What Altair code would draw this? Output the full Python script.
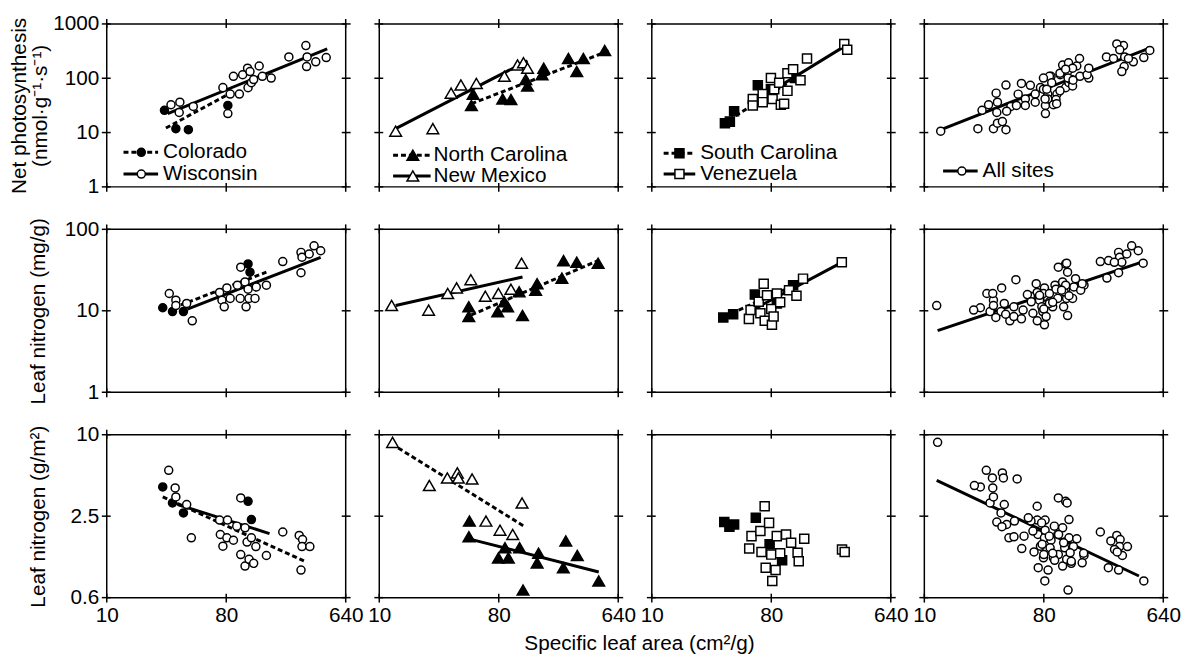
import altair as alt
import pandas as pd

FONT = "Liberation Sans"
FS = 21
PANEL_W = 242
PANEL_H = 165

X_TICKS = [10, 80, 640]
A_TICKS = [1, 10, 100, 1000]
NMASS_TICKS = [1, 10, 100]
NAREA_TICKS = [0.625, 2.5, 10]
A_DOMAIN = [1, 1000]
NMASS_DOMAIN = [1, 100]
NAREA_DOMAIN = [0.625, 10]

A_TITLE = ["Net photosynthesis", "(nmol·g⁻¹·s⁻¹)"]
NMASS_TITLE = "Leaf nitrogen (mg/g)"
NAREA_TITLE = "Leaf nitrogen (g/m²)"
X_TITLE = "Specific leaf area (cm²/g)"

# ---------------- Row 1: net photosynthesis ----------------
CO_A_sla = [27.3, 33.3, 41.4, 82.3]
CO_A = [25.7, 11.8, 11.3, 31.6]
WI_A_sla = [30.6, 35.7, 35.3, 45.1, 75.5, 82.3, 85.7, 90.7, 100.6, 106.5, 116, 117,
            121, 124, 129, 142, 150, 175, 238, 320, 324, 327, 380, 456]
WI_A = [32.5, 36.3, 23.4, 30.3, 67.2, 22.4, 51.1, 108.6, 51.1, 116, 153, 67.2,
        133, 82.6, 94.7, 168, 108.6, 101, 247, 399, 164, 247, 201, 240]
NC_A_sla = [49.7, 51.2, 85.7, 98.9, 128, 132, 170, 175, 269, 311, 349, 506]
NC_A = [31.6, 51, 41.6, 40.5, 94.7, 72, 116, 153, 231, 133, 231, 325]
NM_A_sla = [13.3, 25.4, 34.9, 41.4, 54.2, 88.2, 111, 123, 132]
NM_A = [10.6, 11.8, 53.2, 75, 80.3, 108.6, 175, 193, 153]
SC_A_sla = [35.7, 38.9, 41.9, 63.3, 79.5, 122]
SC_A = [14.9, 15.9, 24.7, 74, 62.8, 101]
VE_A_sla = [58, 58, 68.9, 68.9, 79.5, 81.8, 84.2, 91.8, 94.5, 100, 106, 106, 117,
            133, 149, 285, 300]
VE_A = [41.6, 31.6, 51.1, 36.3, 101, 41.6, 62.8, 82.6, 32.5, 33.9, 58.6, 124, 147,
        92, 231, 428, 334]

# regression line end points
CO_A_fit_sla = [28.0, 85.7]
CO_A_fit = [12.1, 53]
WI_A_fit_sla = [28.9, 464]
WI_A_fit = [22.4, 348]
NC_A_fit_sla = [49.7, 551]
NC_A_fit = [33.9, 325]
NM_A_fit_sla = [13.3, 132]
NM_A_fit = [11.8, 210]
SC_A_fit_sla = [34.1, 125.8]
SC_A_fit = [14.3, 105.6]
VE_A_fit_sla = [56.4, 300]
VE_A_fit = [33.9, 416]
ALL_A_fit_sla = [12.8, 486]
ALL_A_fit = [10.9, 348]

# ---------------- Row 2: leaf nitrogen per mass ----------------
CO_N_sla = [26.5, 31.4, 38.0, 117, 121]
CO_N = [10.9, 9.77, 9.77, 37.6, 29.8]
WI_N_sla = [29.7, 33.3, 33.3, 40.2, 44.3, 71.3, 74.3, 77.3, 80.9, 85.7, 97.2, 102,
            103, 111, 113, 117, 119, 132, 135, 161, 214, 294, 294, 299, 339, 369, 414]
WI_N = [16.3, 13.5, 11.6, 12.3, 7.53, 16.8, 13.5, 11.2, 19.1, 14.2, 20.6, 14.2,
        34.3, 22.6, 11.2, 18.4, 14.2, 14.2, 19.6, 20.6, 40.2, 29.3, 52.1, 45.4, 49.8, 62.8, 54.6]
NC_N_sla = [47.5, 47.5, 78.6, 88.2, 93.4, 114, 121, 152, 156, 240, 247, 311, 451]
NC_N = [11.2, 8.5, 9.77, 12.9, 11.2, 17.1, 8.74, 17.9, 21.5, 25.2, 41.3, 39.4, 38.4]
NM_N_sla = [12.4, 23.6, 32.9, 38.4, 49.2, 63.3, 79.5, 98.9, 119]
NM_N = [11.6, 10.2, 16.3, 19.1, 24.1, 15.1, 16.3, 18.4, 38.4]
SC_N_sla = [34.7, 41.2, 60.1, 88.2, 117]
SC_N = [8.27, 9.07, 15.8, 12.3, 20.6]
VE_N_sla = [54.2, 55.8, 64.3, 66.2, 70.1, 71.4, 74.3, 80, 80.9, 83.3, 88.2, 93.4,
            109, 124, 139, 273]
VE_N = [7.96, 10.2, 12.9, 9.33, 21.5, 7.53, 15.5, 10.5, 6.73, 8.5, 16.3, 12.7,
        17.9, 15.3, 24.8, 39.4]

CO_N_fit_sla = [36.3, 161]
CO_N_fit = [11.8, 29.8]
WI_N_fit_sla = [40.7, 414]
WI_N_fit = [10.5, 45.4]
NC_N_fit_sla = [49.7, 451]
NC_N_fit = [8.9, 41.3]
NM_N_fit_sla = [13.3, 121]
NM_N_fit = [11.6, 26.0]
SC_N_fit_sla = [35.3, 128]
SC_N_fit = [8.5, 21.5]
VE_N_fit_sla = [60.8, 269]
VE_N_fit = [10.7, 38.7]
ALL_N_fit_sla = [12.6, 451]
ALL_N_fit = [5.7, 40.2]

# ---------------- Row 3: leaf nitrogen per area ----------------
CO_Na_sla = [26.5, 31.4, 38.0, 117, 124]
CO_Na = [4.11, 3.13, 2.64, 3.22, 2.36]
WI_Na_sla = [29.4, 32.9, 33.3, 40.2, 43.6, 71.3, 72.2, 75.5, 81.8, 80.9, 90.7, 96.1,
             103, 103, 111, 111, 115, 119, 124, 129, 134, 161, 214, 285, 302, 299, 343, 294]
WI_Na = [5.46, 4.04, 3.47, 3.05, 1.73, 2.34, 1.83, 1.50, 2.34, 1.73, 1.66, 2.11,
         3.41, 1.30, 2.05, 1.07, 1.61, 1.20, 1.73, 1.12, 1.49, 1.28, 1.91, 1.80, 1.68, 1.49, 1.49, 1.0]
NC_Na_sla = [48.0, 47.6, 79.5, 89.2, 94.5, 115, 122, 156, 160, 246, 257, 314, 456]
NC_Na = [2.30, 1.76, 1.23, 1.46, 1.23, 1.46, 0.711, 1.13, 1.33, 1.04, 1.64, 1.28, 0.83]
NM_Na_sla = [12.6, 23.9, 32.7, 38.9, 39.6, 50.3, 64, 81.8, 102, 120]
NM_Na = [8.78, 4.21, 4.79, 5.22, 4.79, 4.71, 2.30, 1.97, 1.83, 3.13]
SC_Na_sla = [35.3, 41.9, 38.6, 61.1, 77.7, 96.6]
SC_Na = [2.26, 2.17, 2.09, 2.43, 1.55, 1.18]
VE_Na_sla = [71.3, 56.7, 54.5, 66.2, 67.5, 72.6, 77, 80, 81.4, 86.2, 88, 93.4,
             103.5, 113, 126.5, 129, 142, 274, 287]
VE_Na = [2.96, 1.78, 1.44, 1.94, 1.36, 1.04, 2.23, 1.30, 0.83, 1.0, 1.78, 1.33,
         1.83, 1.59, 1.34, 1.16, 1.70, 1.42, 1.36]

P1_Na_fit_dash_sla = [26.5, 320]
P1_Na_fit_dash = [3.47, 1.15]
P1_Na_fit_solid_sla = [34.3, 170]
P1_Na_fit_solid = [3.05, 1.86]
P2_Na_fit_dash_sla = [13.9, 124]
P2_Na_fit_dash = [7.98, 2.11]
P2_Na_fit_solid_sla = [47.6, 456]
P2_Na_fit_solid = [1.70, 0.966]
ALL_Na_fit_sla = [12.4, 419]
ALL_Na_fit = [4.60, 0.903]

# ---------------- assembly ----------------
STYLE = {
    "Colorado": ("circle", "black"),
    "Wisconsin": ("circle", "white"),
    "North Carolina": ("triangle-up", "black"),
    "New Mexico": ("triangle-up", "white"),
    "South Carolina": ("square", "black"),
    "Venezuela": ("square", "white"),
    "All sites": ("circle", "white"),
}
SIZE = {"circle": 66, "triangle-up": 140, "square": 84}

ROWS = [
    {"Colorado": (CO_A_sla, CO_A), "Wisconsin": (WI_A_sla, WI_A),
     "North Carolina": (NC_A_sla, NC_A), "New Mexico": (NM_A_sla, NM_A),
     "South Carolina": (SC_A_sla, SC_A), "Venezuela": (VE_A_sla, VE_A)},
    {"Colorado": (CO_N_sla, CO_N), "Wisconsin": (WI_N_sla, WI_N),
     "North Carolina": (NC_N_sla, NC_N), "New Mexico": (NM_N_sla, NM_N),
     "South Carolina": (SC_N_sla, SC_N), "Venezuela": (VE_N_sla, VE_N)},
    {"Colorado": (CO_Na_sla, CO_Na), "Wisconsin": (WI_Na_sla, WI_Na),
     "North Carolina": (NC_Na_sla, NC_Na), "New Mexico": (NM_Na_sla, NM_Na),
     "South Carolina": (SC_Na_sla, SC_Na), "Venezuela": (VE_Na_sla, VE_Na)},
]
LINES = [
    [[(CO_A_fit_sla, CO_A_fit, True), (WI_A_fit_sla, WI_A_fit, False)],
     [(NC_A_fit_sla, NC_A_fit, True), (NM_A_fit_sla, NM_A_fit, False)],
     [(SC_A_fit_sla, SC_A_fit, True), (VE_A_fit_sla, VE_A_fit, False)],
     [(ALL_A_fit_sla, ALL_A_fit, False)]],
    [[(CO_N_fit_sla, CO_N_fit, True), (WI_N_fit_sla, WI_N_fit, False)],
     [(NC_N_fit_sla, NC_N_fit, True), (NM_N_fit_sla, NM_N_fit, False)],
     [(SC_N_fit_sla, SC_N_fit, True), (VE_N_fit_sla, VE_N_fit, False)],
     [(ALL_N_fit_sla, ALL_N_fit, False)]],
    [[(P1_Na_fit_dash_sla, P1_Na_fit_dash, True), (P1_Na_fit_solid_sla, P1_Na_fit_solid, False)],
     [(P2_Na_fit_dash_sla, P2_Na_fit_dash, True), (P2_Na_fit_solid_sla, P2_Na_fit_solid, False)],
     [],
     [(ALL_Na_fit_sla, ALL_Na_fit, False)]],
]
Y_DOMAINS = [A_DOMAIN, NMASS_DOMAIN, NAREA_DOMAIN]
Y_TICKS = [A_TICKS, NMASS_TICKS, NAREA_TICKS]
Y_TITLES = [A_TITLE, NMASS_TITLE, NAREA_TITLE]
COL_SITES = [["Colorado", "Wisconsin"], ["North Carolina", "New Mexico"],
             ["South Carolina", "Venezuela"], None]
# legend geometry (pixels inside a panel): line x0, x1, symbol x, text x, row ys
LEGEND_GEOM = [
    (17, 52, 35, 57, [130, 152]),
    (14, 52, 34, 55, [133, 154]),
    (12, 44, 28, 49, [131, 152]),
    (19, 54, 38, 59, [149]),
]


def x_axis(r, c):
    if r != 2:
        return None
    kw = dict(values=X_TICKS, format="d", ticks=False, tickSize=0, domain=False,
              grid=False, labelFlush=False, labelPadding=7)
    if c == 1:
        kw.update(title=X_TITLE, titleX=263, titleY=36, titleBaseline="top",
                  titleAlign="center")
    else:
        kw.update(title="")
    return alt.Axis(**kw)


def y_axis(r, c):
    if c != 0:
        return None
    kw = dict(values=Y_TICKS[r], ticks=False, tickSize=0, domain=False, grid=False,
              labelPadding=8, title=Y_TITLES[r], titleAngle=270,
              titleBaseline="bottom", titleLineHeight=21)
    if r == 0:
        kw["titleX"] = -78
    else:
        kw["titleX"] = -59
    if r == 2:
        kw["labelExpr"] = "datum.value < 1 ? '0.6' : (datum.value < 5 ? '2.5' : '10')"
    else:
        kw["format"] = "d"
    return alt.Axis(**kw)


def panel(r, c):
    xs = alt.Scale(type="log", domain=[10, 640])
    ys = alt.Scale(type="log", domain=Y_DOMAINS[r])
    xa = x_axis(r, c)
    ya = y_axis(r, c)

    def X():
        return alt.X("sla:Q", scale=xs, axis=xa)

    def Y():
        return alt.Y("v:Q", scale=ys, axis=ya)

    layers = []
    # regression lines
    for lx, ly, dashed in LINES[r][c]:
        d = pd.DataFrame({"sla": lx, "v": ly})
        kw = dict(color="black", strokeWidth=3)
        if dashed:
            kw["strokeDash"] = [5, 3]
        layers.append(alt.Chart(d).mark_line(**kw).encode(x=X(), y=Y()))
    # points
    if COL_SITES[c] is not None:
        series = [(s, ROWS[r][s][0], ROWS[r][s][1]) for s in COL_SITES[c]]
    else:
        allx, ally = [], []
        for s in ["Colorado", "Wisconsin", "North Carolina", "New Mexico",
                  "South Carolina", "Venezuela"]:
            allx += list(ROWS[r][s][0])
            ally += list(ROWS[r][s][1])
        series = [("All sites", allx, ally)]
    for name, sx, sy in series:
        shape, fill = STYLE[name]
        d = pd.DataFrame({"sla": sx, "v": sy})
        layers.append(alt.Chart(d).mark_point(
            shape=shape, filled=True, fill=fill, stroke="black", strokeWidth=1.5,
            size=SIZE[shape], opacity=1).encode(x=X(), y=Y()))
    # tick marks crossing the frame on all four sides
    xt = pd.DataFrame({"sla": X_TICKS})
    yt = pd.DataFrame({"v": Y_TICKS[r]})
    for a, b in [(-5, 4), (PANEL_H - 4, PANEL_H + 5)]:
        layers.append(alt.Chart(xt).mark_rule(color="black", strokeWidth=1.5).encode(
            x=X(), y=alt.value(a), y2=alt.value(b)))
    for a, b in [(-5, 4), (PANEL_W - 4, PANEL_W + 5)]:
        layers.append(alt.Chart(yt).mark_rule(color="black", strokeWidth=1.5).encode(
            y=Y(), x=alt.value(a), x2=alt.value(b)))
    # legend (top row only)
    if r == 0:
        x0, x1, xsym, xtxt, yrows = LEGEND_GEOM[c]
        names = COL_SITES[c] if COL_SITES[c] is not None else ["All sites"]
        for k, name in enumerate(names):
            shape, fill = STYLE[name]
            yy = yrows[k]
            lab = pd.DataFrame({"label": [name]})
            rkw = dict(color="black", strokeWidth=3)
            if fill == "black":
                rkw["strokeDash"] = [5, 3]
            layers.append(alt.Chart(lab).mark_rule(**rkw).encode(
                x=alt.value(x0), x2=alt.value(x1), y=alt.value(yy)))
            layers.append(alt.Chart(lab).mark_point(
                shape=shape, filled=True, fill=fill, stroke="black", strokeWidth=1.5,
                size=SIZE[shape], opacity=1).encode(x=alt.value(xsym), y=alt.value(yy)))
            layers.append(alt.Chart(lab).mark_text(
                font=FONT, fontSize=FS, align="left", baseline="middle", color="black").encode(
                x=alt.value(xtxt), y=alt.value(yy), text="label:N"))
    return alt.layer(*layers).properties(width=PANEL_W, height=PANEL_H)


panels = [panel(r, c) for r in range(3) for c in range(4)]

chart = alt.concat(
    *panels, columns=4, spacing={"row": 43, "column": 34}, bounds="flush"
).properties(
    padding={"left": 0, "top": 0, "right": 4, "bottom": 0}
).configure_view(
    stroke="black", strokeWidth=1.5
).configure_axis(
    labelFont=FONT, titleFont=FONT, labelFontSize=FS, titleFontSize=FS,
    titleFontWeight="normal", labelColor="black", titleColor="black"
)

chart.save("out.html", embed_options={"renderer": "svg", "actions": False})
